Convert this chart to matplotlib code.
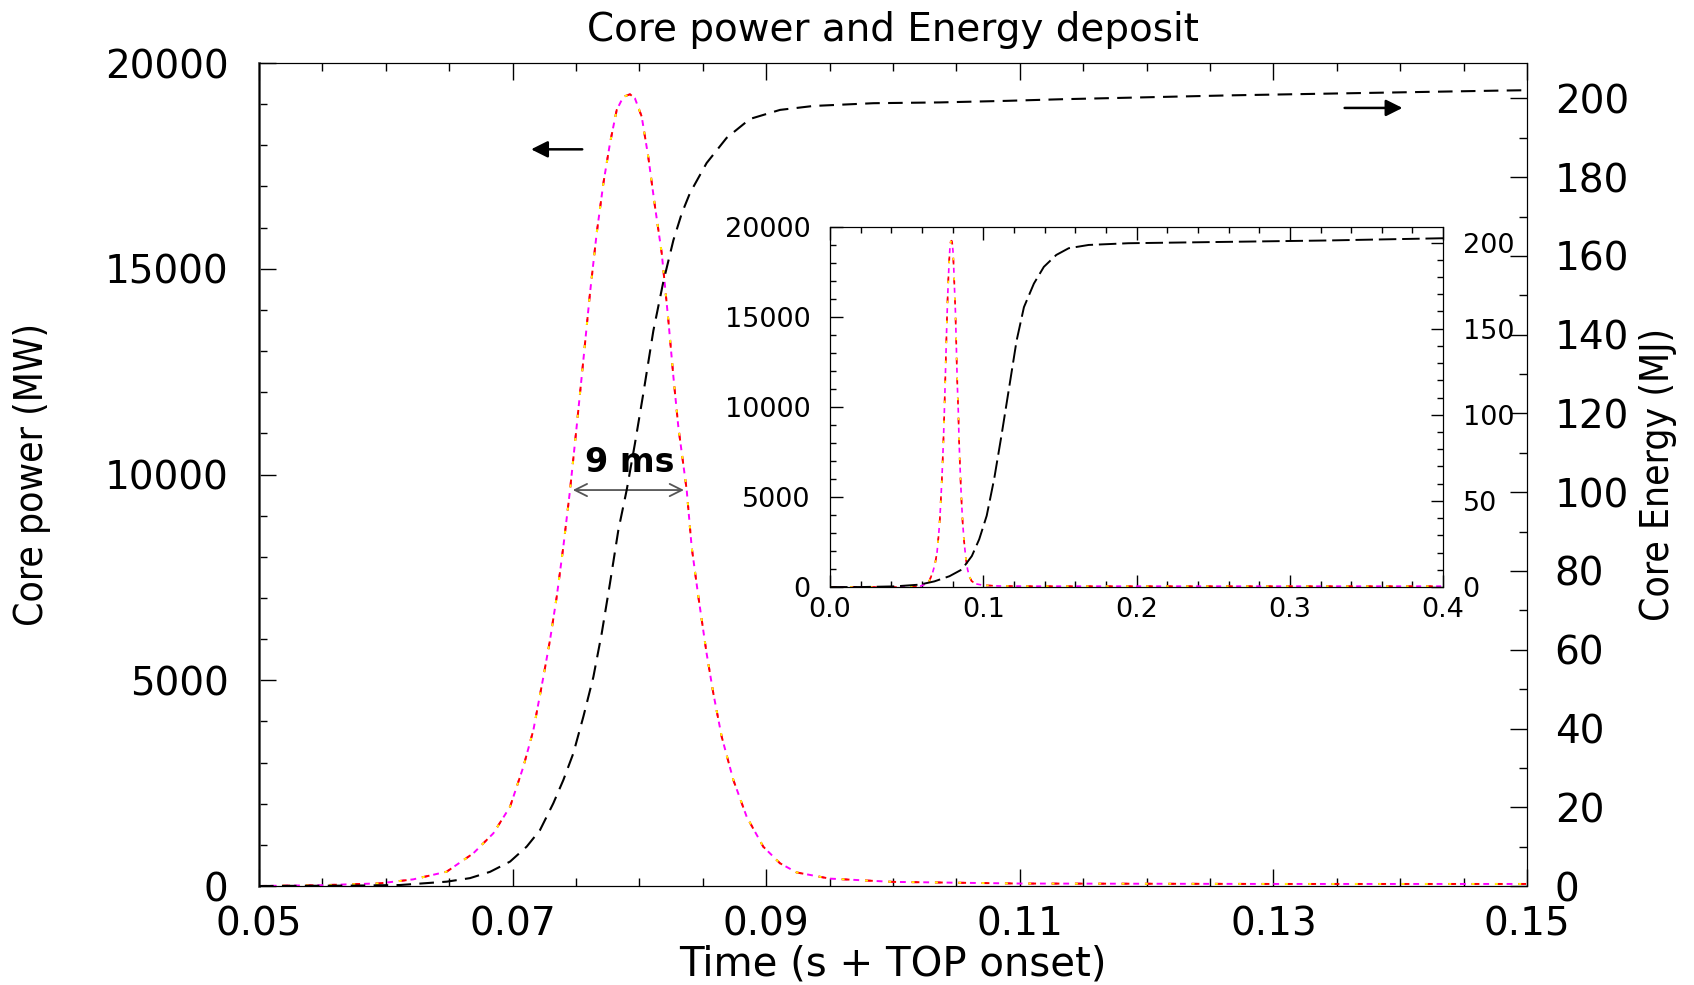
import numpy as np
import matplotlib.pyplot as plt
from matplotlib.ticker import MultipleLocator

# core power pulse, main window (time s, power MW)
power_t = [0.050, 0.055, 0.05954, 0.06217, 0.0648, 0.0669, 0.06848, 0.0698, 0.07085, 0.07164,
           0.07243, 0.07295, 0.07348, 0.074, 0.07453, 0.07505, 0.07558, 0.0761, 0.07663, 0.07716,
           0.07768, 0.07821, 0.07873, 0.07926, 0.07965, 0.08018, 0.0807, 0.08123, 0.08176, 0.08228,
           0.08268, 0.08307, 0.08373, 0.08412, 0.08465, 0.0853, 0.08583, 0.08649, 0.08741, 0.08846,
           0.08977, 0.09109, 0.0924, 0.095, 0.100, 0.110, 0.130, 0.150]
power_mw = [0, 20, 65, 162, 348, 794, 1280, 1927, 2899, 3791,
            5087, 5978, 7031, 8245, 9623, 11160, 12780, 14400, 15860, 17080,
            18050, 18860, 19180, 19240, 19140, 18700, 17720, 16510, 15380, 13760,
            12380, 11160, 9623, 8245, 7031, 5655, 4683, 3628, 2576, 1684,
            955, 552, 330, 180, 100, 60, 50, 50]

# energy deposit, main window (time s, energy MJ)
energy_t = [0.050, 0.0575, 0.06112, 0.0648, 0.06664, 0.06822, 0.0698, 0.07111, 0.07216, 0.07321,
            0.074, 0.07479, 0.07558, 0.07637, 0.07703, 0.07768, 0.07834, 0.079, 0.07965, 0.08031,
            0.0811, 0.08189, 0.08268, 0.08334, 0.08399, 0.0853, 0.08688, 0.08872, 0.09109, 0.09372,
            0.09845, 0.10371, 0.10897, 0.1132, 0.1267, 0.1478, 0.150]
energy_mj = [0, 0.1, 0.25, 1.1, 2.0, 3.6, 6.2, 10.0, 14.2, 21.0,
             26.9, 33.7, 43.0, 53.1, 64.2, 76.9, 90.4, 100.6, 112.4, 125.1,
             141.0, 153.5, 164.0, 170.8, 176.0, 183.6, 190.0, 194.8, 197.1, 198.1,
             198.8, 199.0, 199.4, 199.8, 200.8, 202.0, 202.1]

# inset: power outside main window
inset_pre_t = [0.0, 0.02, 0.04]
inset_pre_mw = [0, 0, 0]
inset_post_t = [0.2, 0.3, 0.4]
inset_post_mw = [50, 50, 50]

# inset: energy deposit on long time scale
inset_energy_t = [0.0, 0.02, 0.0422, 0.0584, 0.0681, 0.0779, 0.0860, 0.0925, 0.0973, 0.1022,
                  0.1071, 0.1119, 0.1168, 0.1217, 0.1265, 0.1330, 0.1395, 0.1476, 0.1557, 0.1687,
                  0.1946, 0.2595, 0.3244, 0.4]
inset_energy_mj = [0, 0, 0.4, 1.4, 3.3, 6.3, 10.2, 18.0, 27.7, 41.4,
                   62.9, 88.3, 115.6, 143.0, 162.5, 176.2, 185.9, 192.8, 196.7, 198.6,
                   199.6, 200.4, 201.2, 202.5]

# pulse width annotation
fwhm_left, fwhm_right, fwhm_level = 0.07453, 0.08373, 9623

narrow = ['Liberation Sans Narrow', 'DejaVu Sans']


def power_line(axis, t, p, lw=1.3):
    # multi-coloured dashed trace (magenta / red / yellow)
    axis.plot(t, p, color='magenta', lw=lw, dashes=(3, 3))
    axis.plot(t, p, color='red', lw=lw, dashes=(4, 8))
    axis.plot(t, p, color='yellow', lw=lw, dashes=(1.5, 10.5))


fig = plt.figure(figsize=(16.94, 9.85), dpi=100)

# main plot
ax = fig.add_axes([0.1529, 0.1005, 0.7485, 0.8355])
power_line(ax, power_t, power_mw, lw=1.4)
ax.set_xlim(0.05, 0.15)
ax.set_ylim(0, 20000)
ax.xaxis.set_major_locator(MultipleLocator(0.02))
ax.xaxis.set_minor_locator(MultipleLocator(0.005))
ax.yaxis.set_major_locator(MultipleLocator(5000))
ax.yaxis.set_minor_locator(MultipleLocator(1000))
ax.tick_params(which='both', direction='in', top=True, labelsize=28)
ax.tick_params(which='major', length=12, width=1)
ax.tick_params(which='minor', length=6, width=1)
ax.tick_params(axis='y', pad=22)
ax.tick_params(axis='x', pad=14)
ax.set_xticks([0.05, 0.07, 0.09, 0.11, 0.13, 0.15])
ax.set_xticklabels(['0.05', '0.07', '0.09', '0.11', '0.13', '0.15'])
ax.spines['left'].set_color('#555555')
ax.spines['left'].set_linewidth(2)

ax.set_title('Core power and Energy deposit', fontsize=28, pad=16)
ax.set_xlabel('Time (s + TOP onset)', fontsize=29, va='center')
ax.xaxis.set_label_coords(0.5, -0.095)
ax.set_ylabel('Core power (MW)', fontsize=28, family=narrow, fontstretch='condensed',
              va='center')
ax.yaxis.set_label_coords(-0.179, 0.5)

# energy on the right axis
ax2 = ax.twinx()
ax2.plot(energy_t, energy_mj, color='black', lw=1.5, dashes=(7, 4))
ax2.set_ylim(0, 209)
ax2.yaxis.set_major_locator(MultipleLocator(20))
ax2.yaxis.set_minor_locator(MultipleLocator(10))
ax2.tick_params(which='both', direction='in', labelsize=28, pad=20)
ax2.tick_params(which='major', length=12, width=1)
ax2.tick_params(which='minor', length=6, width=1)
ax2.set_ylabel('Core Energy (MJ)', fontsize=28, family=narrow, fontstretch='condensed',
               rotation=90, va='center')
ax2.yaxis.set_label_coords(1.103, 0.5)

# direction arrows and pulse width
ax.annotate('', xy=(0.07124, 17903), xytext=(0.07571, 17903),
            arrowprops=dict(arrowstyle='-|>', color='black', lw=1.8, mutation_scale=25))
ax2.annotate('', xy=(0.1404, 197.6), xytext=(0.1354, 197.6),
             arrowprops=dict(arrowstyle='-|>', color='black', lw=1.8, mutation_scale=25))
ax.annotate('', xy=(fwhm_left, fwhm_level), xytext=(fwhm_right, fwhm_level),
            arrowprops=dict(arrowstyle='<->', color='#555555', lw=1.3, mutation_scale=22))
ax.text((fwhm_left + fwhm_right) / 2 + 0.0001, 10300, '9 ms', fontsize=24, fontweight='bold',
        ha='center', va='center')

# inset with long time view
axin = fig.add_axes([0.49, 0.404, 0.3619, 0.3655])
power_line(axin, inset_pre_t + power_t + inset_post_t,
           inset_pre_mw + power_mw + inset_post_mw, lw=1.2)
axin.set_xlim(0.0, 0.4)
axin.set_ylim(0, 20000)
axin.xaxis.set_major_locator(MultipleLocator(0.1))
axin.xaxis.set_minor_locator(MultipleLocator(0.02))
axin.yaxis.set_major_locator(MultipleLocator(5000))
axin.yaxis.set_minor_locator(MultipleLocator(1000))
axin.tick_params(which='both', direction='in', top=True, labelsize=19.5)
axin.tick_params(which='major', length=9, width=1)
axin.tick_params(which='minor', length=4, width=1)
axin.tick_params(axis='y', pad=14)
axin.tick_params(axis='x', pad=7)
axin.xaxis.set_major_formatter(plt.FuncFormatter(lambda v, pos: f'{v:.1f}'))

axin2 = axin.twinx()
axin2.plot(inset_energy_t, inset_energy_mj, color='black', lw=1.4, dashes=(9, 3))
axin2.set_ylim(0, 209)
axin2.yaxis.set_major_locator(MultipleLocator(50))
axin2.yaxis.set_minor_locator(MultipleLocator(10))
axin2.tick_params(which='both', direction='in', labelsize=19.5, pad=14)
axin2.tick_params(which='major', length=9, width=1)
axin2.tick_params(which='minor', length=4, width=1)

fig.savefig('out.png', dpi=100)
